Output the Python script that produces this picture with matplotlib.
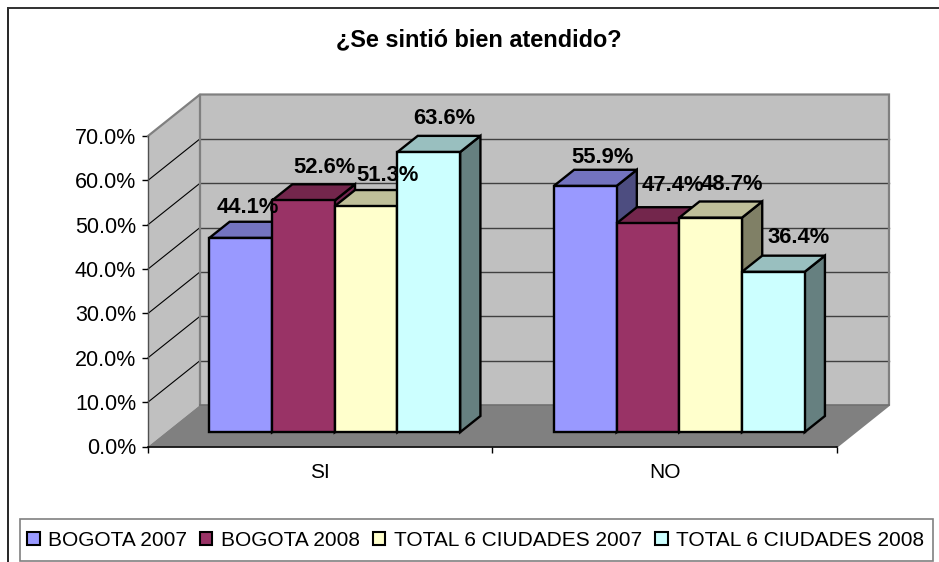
import matplotlib
matplotlib.use("Agg")
import matplotlib.pyplot as plt
from matplotlib.lines import Line2D
from matplotlib.patches import Polygon, Patch, Rectangle

plt.rcParams["font.family"] = ["Liberation Sans", "DejaVu Sans"]

# ------------------------------
# DATA
# ------------------------------
categories = ["SI", "NO"]
series_names = ["BOGOTA 2007", "BOGOTA 2008", "TOTAL 6 CIUDADES 2007", "TOTAL 6 CIUDADES 2008"]
bogota_2007 = [44.1, 55.9]
bogota_2008 = [52.6, 47.4]
total_2007 = [51.3, 48.7]
total_2008 = [63.6, 36.4]
y_ticks = [0, 10, 20, 30, 40, 50, 60, 70]

series_values = [bogota_2007, bogota_2008, total_2007, total_2008]
front_colors = ["#9999FF", "#993366", "#FFFFCC", "#CCFFFF"]
top_colors = ["#7373BF", "#73264C", "#BFBF99", "#99BFBF"]
side_colors = ["#4D4D80", "#732650", "#808066", "#668080"]

# label offsets from the top centre of each bar, in pixels (series, then category)
label_dx = [[7, 17.5], [21, 25], [21, 21], [15.5, 25]]
label_dy = [[30.5, 28.5], [32.5, 37.5], [30.5, 33.5], [33.5, 34.5]]

W, H = 939, 562
LEFT, RIGHT = 148, 837
Y0, Y70 = 446.5, 136

fig = plt.figure(figsize=(W / 100, H / 100), dpi=100, facecolor="white")
ax = fig.add_axes([LEFT / W, 1 - Y0 / H, (RIGHT - LEFT) / W, (Y0 - Y70) / H])
ax.set_xlim(0, len(categories))
ax.set_ylim(0, 70)
ax.patch.set_visible(False)

# depth of the box in data units
px_x = len(categories) / (RIGHT - LEFT)
px_y = 70 / (Y0 - Y70)
DX = 52 * px_x
DY = 41.5 * px_y


def proj(x, y, d):
    return x + d * DX, y + d * DY


def face(points, color, ec="none", lw=0, z=1):
    ax.add_patch(Polygon([proj(*p) for p in points], closed=True, fc=color, ec=ec,
                         lw=lw, clip_on=False, zorder=z, joinstyle="miter"))


# ------------------------------
# WALLS AND FLOOR
# ------------------------------
n = len(categories)
face([(0, 0, 1), (n, 0, 1), (n, 70, 1), (0, 70, 1)], "#C0C0C0")
face([(0, 0, 0), (0, 0, 1), (0, 70, 1), (0, 70, 0)], "#C0C0C0")
face([(0, 0, 0), (n, 0, 0), (n, 0, 1), (0, 0, 1)], "#808080")

for t in y_ticks[1:-1]:
    xs, ys = zip(proj(0, t, 0), proj(0, t, 1))
    ax.plot(xs, ys, color="black", lw=0.8, clip_on=False, zorder=2)
    xs, ys = zip(proj(0, t, 1), proj(n, t, 1))
    ax.plot(xs, ys, color="#404040", lw=1.0, clip_on=False, zorder=2)

xs, ys = zip(proj(0, 70, 0), proj(0, 70, 1), proj(n, 70, 1), proj(n, 0, 1), proj(n, 0, 0))
ax.plot(xs, ys, color="#808080", lw=1.6, clip_on=False, zorder=2, solid_joinstyle="miter")
xs, ys = zip(proj(0, 0, 1), proj(0, 70, 1))
ax.plot(xs, ys, color="#808080", lw=1.6, clip_on=False, zorder=2)
xs, ys = zip(proj(0, 0, 1), proj(n, 0, 1))
ax.plot(xs, ys, color="#707070", lw=1.2, clip_on=False, zorder=2)

# ------------------------------
# BARS
# ------------------------------
bar_w = 62.7 * px_x
d0, d1 = 0.345, 0.735
gap = (1 - 4 * bar_w) / 2
z = 3
for c in range(n):
    for s, vals in enumerate(series_values):
        x0 = c + gap + s * bar_w - 0.010
        x1 = x0 + bar_w
        v = vals[c] * 0.993
        kw = dict(ec="black", lw=1.7, z=z)
        face([(x1, 0, d0), (x1, 0, d1), (x1, v, d1), (x1, v, d0)], side_colors[s], **kw)
        face([(x0, v, d0), (x1, v, d0), (x1, v, d1), (x0, v, d1)], top_colors[s], **kw)
        face([(x0, 0, d0), (x1, 0, d0), (x1, v, d0), (x0, v, d0)], front_colors[s], **kw)
        z += 1
        ax.annotate(f"{vals[c]:.1f}%", xy=proj((x0 + x1) / 2, v, d0),
                    xytext=(label_dx[s][c] * 0.72, label_dy[s][c] * 0.72),
                    textcoords="offset points", ha="center", va="center",
                    fontsize=15.8, fontweight="bold", color="black", zorder=50,
                    annotation_clip=False)

# ------------------------------
# AXES
# ------------------------------
ax.set_yticks(y_ticks)
ax.set_yticklabels([f"{t:.1f}%" for t in y_ticks], fontsize=15.5)
ax.set_xticks(range(n + 1))
ax.set_xticklabels([])
ax.set_xticks([i + 0.5 for i in range(n)], labels=categories, minor=True, fontsize=15)
ax.tick_params(axis="x", which="minor", length=0, pad=12)
ax.tick_params(axis="x", which="major", length=4.5, width=1, color="black", direction="out")
ax.tick_params(axis="y", length=4.5, width=1, color="black", pad=4)
for name in ["top", "right"]:
    ax.spines[name].set_visible(False)
ax.spines["left"].set_color("#505050")
ax.spines["left"].set_linewidth(1.0)
ax.spines["bottom"].set_color("black")
ax.spines["bottom"].set_linewidth(1.2)
for sp in ax.spines.values():
    sp.set_zorder(2.5)

fig.text(479 / W, 1 - 40 / H, "¿Se sintió bien atendido?", ha="center", va="center",
         fontsize=16.9, fontweight="bold")

# ------------------------------
# LEGEND AND OUTER BORDER
# ------------------------------
fig.add_artist(Rectangle((19.5 / W, 1 - 561 / H), 913 / W, 42 / H, transform=fig.transFigure,
                         fc="white", ec="#808080", lw=1.2))
handles = [Patch(fc=col, ec="black", lw=1.5, label=name)
           for col, name in zip(front_colors, series_names)]
leg = fig.legend(handles=handles, ncol=4, loc="center left",
                 bbox_to_anchor=(27 / W, 1 - 540 / H), fontsize=15,
                 frameon=False, borderpad=0, borderaxespad=0,
                 handlelength=0.6, handleheight=0.6,
                 handletextpad=0.43, columnspacing=0.6)

fig.add_artist(Line2D([7.5 / W, 7.5 / W], [0, 1 - 8 / H], color="black", lw=1.2))
fig.add_artist(Line2D([7.5 / W, 1], [1 - 8 / H, 1 - 8 / H], color="#303030", lw=1.4))

fig.savefig("out.png", dpi=100)
